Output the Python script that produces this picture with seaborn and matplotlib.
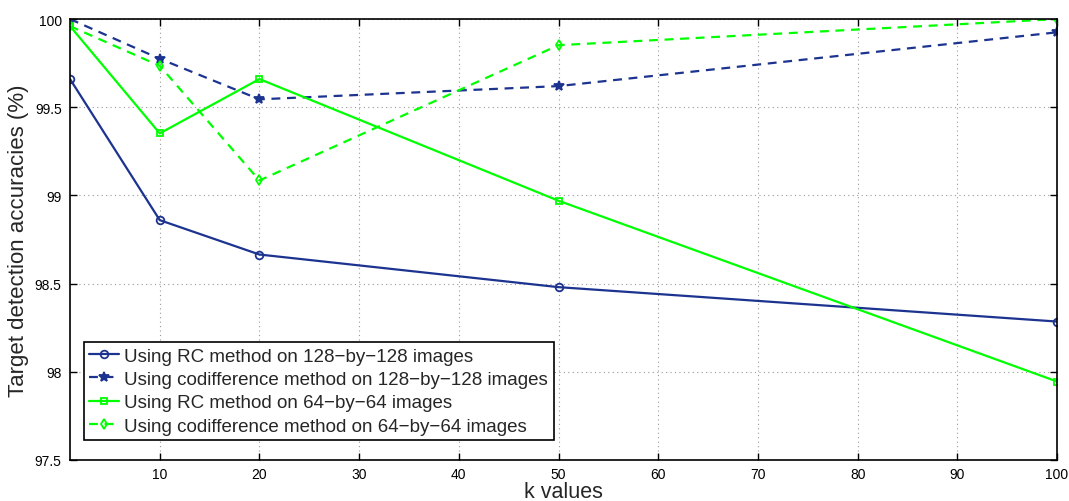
import numpy as np
import pandas as pd
import matplotlib
matplotlib.use("Agg")
import matplotlib.pyplot as plt
import seaborn as sns

k_values = [1, 10, 20, 50, 100]
rc_128 = [99.66, 98.86, 98.665, 98.48, 98.285]
codiff_128 = [100.0, 99.775, 99.545, 99.62, 99.925]
rc_64 = [99.96, 99.352, 99.66, 98.97, 97.945]
codiff_64 = [99.96, 99.735, 99.085, 99.852, 100.0]

labels = [
    "Using RC method on 128\u2212by\u2212128 images",
    "Using codifference method on 128\u2212by\u2212128 images",
    "Using RC method on 64\u2212by\u221264 images",
    "Using codifference method on 64\u2212by\u221264 images",
]
series = [rc_128, codiff_128, rc_64, codiff_64]

rows = []
for lab, vals in zip(labels, series):
    for k, v in zip(k_values, vals):
        rows.append({"k": k, "acc": v, "series": lab})
df = pd.DataFrame(rows)

sns.set_theme(style="white")
plt.rcParams['font.family'] = ['Liberation Sans', 'DejaVu Sans']

blue = "#1c3390"
green = "#00ff00"
colors = [blue, blue, green, green]
styles = ["-", "--", "-", "--"]
markers = ["o", "*", "s", "d"]
mfc = ["none", blue, "none", "none"]
msz = [5.5, 7.5, 5, 5.5]

fig = plt.figure(figsize=(10.69, 5.02), dpi=100)
ax = fig.add_axes([0.0655, 0.0817, 0.9233, 0.8783])

for i, lab in enumerate(labels):
    sub = df[df["series"] == lab]
    sns.lineplot(data=sub, x="k", y="acc", ax=ax, color=colors[i], linestyle=styles[i],
                 marker=markers[i], markersize=msz[i], markerfacecolor=mfc[i],
                 markeredgecolor=colors[i], markeredgewidth=1.3, linewidth=1.6,
                 label=lab, dashes=False)
for line, ls in zip(ax.get_lines(), styles):
    line.set_linestyle(ls)
    if ls == "--":
        line.set_dashes((4, 3))

ax.set_xlim(1, 100)
ax.set_ylim(97.5, 100)
ax.set_xticks([10, 20, 30, 40, 50, 60, 70, 80, 90, 100])
ax.set_yticks([97.5, 98, 98.5, 99, 99.5, 100])
ax.set_yticklabels(["97.5", "98", "98.5", "99", "99.5", "100"])
ax.grid(True, linestyle=(0, (1, 3)), color="#999999", linewidth=0.8)
ax.tick_params(direction="in", length=5, width=1, labelsize=10, top=True, right=True,
               bottom=True, left=True, colors="black", pad=6)
ax.tick_params(axis="x", pad=5)
for s in ax.spines.values():
    s.set_color("black")
    s.set_linewidth(1.2)
    s.set_visible(True)

ax.set_xlabel("k values", fontsize=15.5, labelpad=0)
ax.set_ylabel("Target detection accuracies (%)", fontsize=16, labelpad=4)

leg = ax.legend(loc="lower left", bbox_to_anchor=(0.014, 0.045), fontsize=13.5, frameon=True,
                fancybox=False, edgecolor="black", framealpha=1, labelspacing=0.33,
                handlelength=1.6, handletextpad=0.25, borderpad=0.3, borderaxespad=0)
leg.get_frame().set_linewidth(1.2)

fig.savefig("out.png", dpi=100)
